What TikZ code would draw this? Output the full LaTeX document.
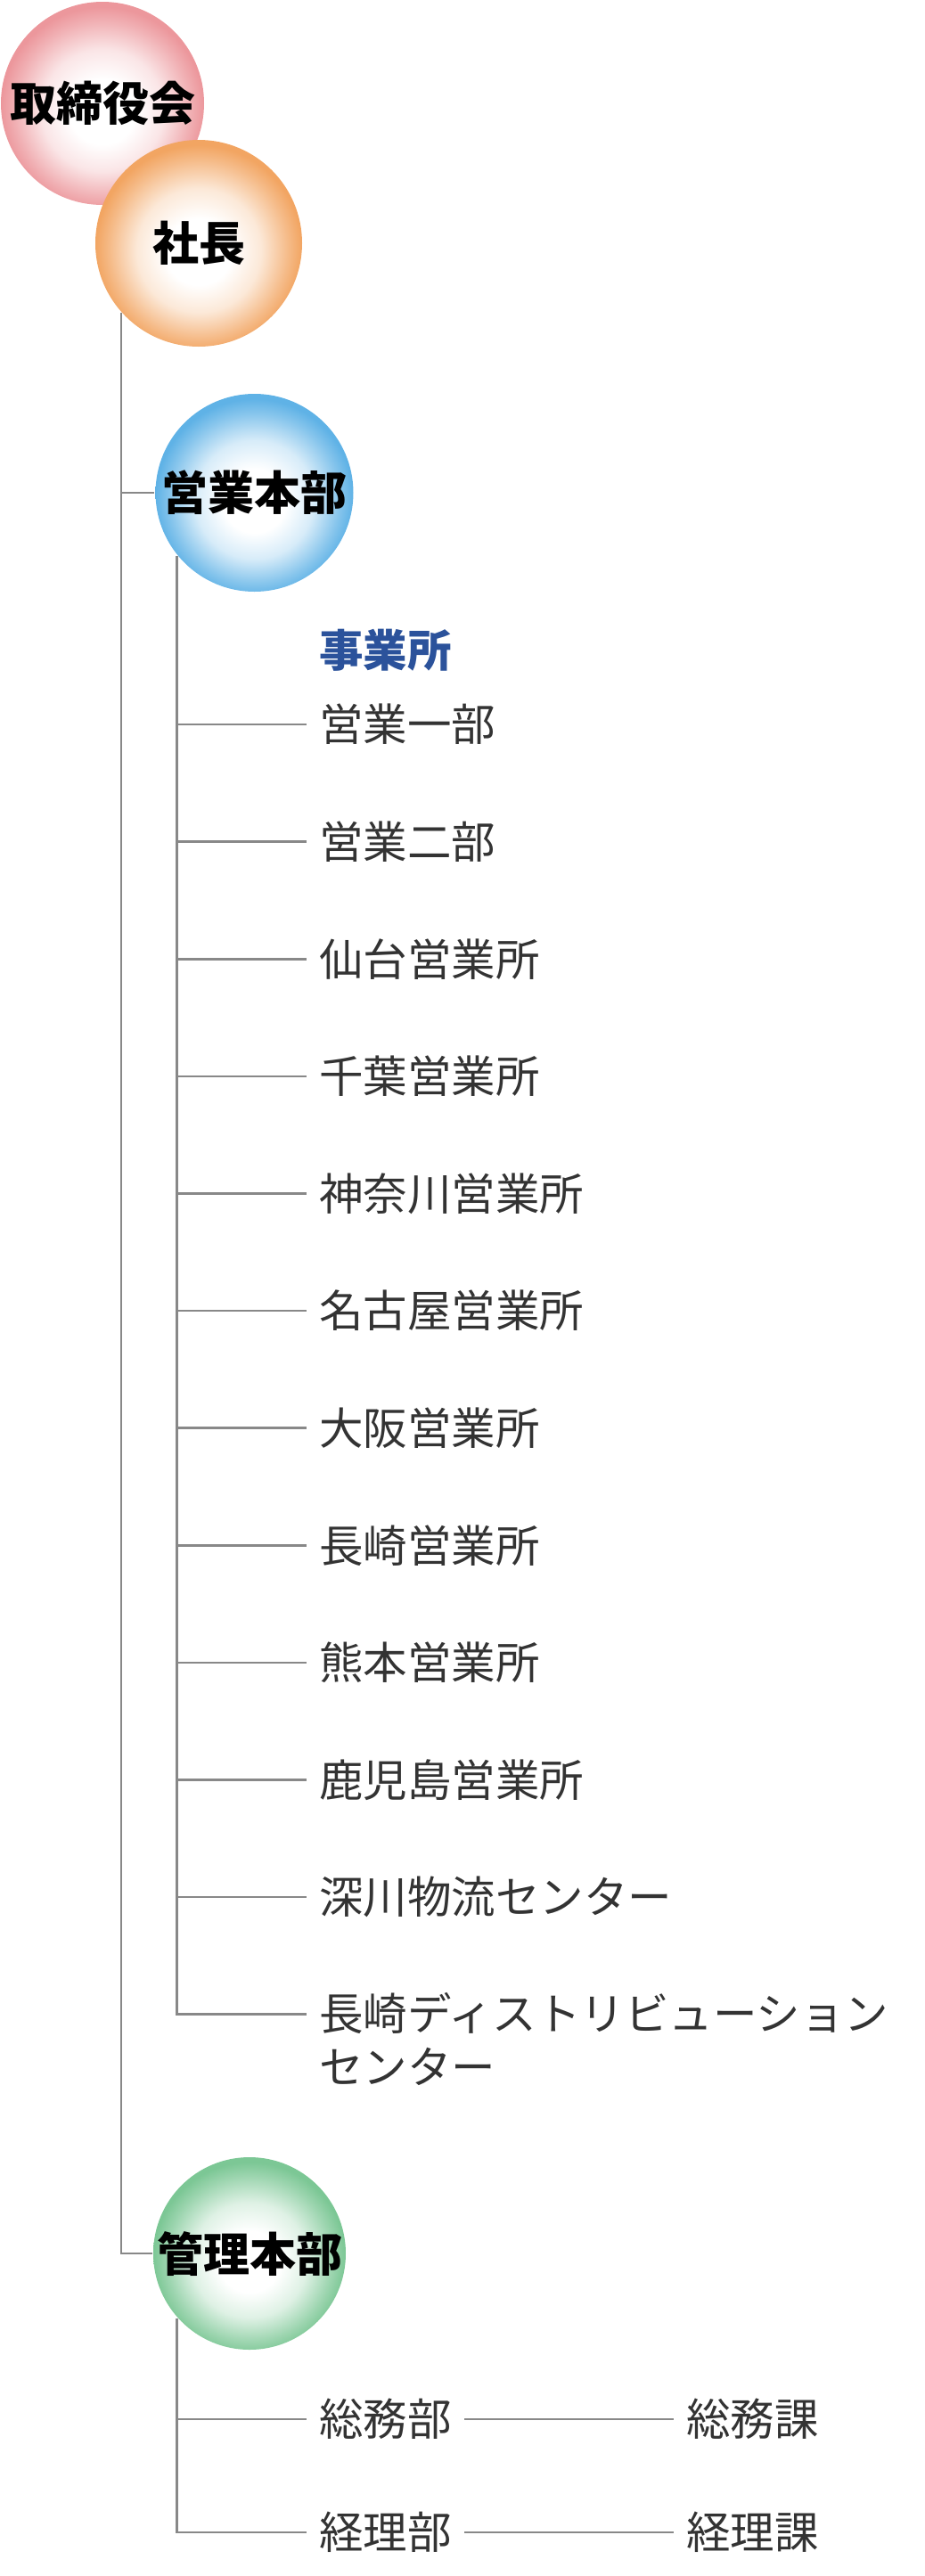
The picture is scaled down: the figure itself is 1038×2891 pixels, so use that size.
\documentclass[tikz,border=0pt]{standalone}
\usepackage{fontspec}
\newfontfamily\jpfont{Noto Sans CJK JP}
\usepackage{tikz}
\definecolor{pinkc}{HTML}{EC979C}
\definecolor{orangec}{HTML}{F2A562}
\definecolor{bluec}{HTML}{5FB2E6}
\definecolor{greenc}{HTML}{7CC795}
\definecolor{linec}{HTML}{888888}
\definecolor{textc}{HTML}{333333}
\definecolor{headc}{HTML}{2B529B}
\pgfdeclareradialshading{pinkball}{\pgfpoint{0bp}{-2.5bp}}{color(0bp)=(white); color(8bp)=(white); color(15bp)=(pinkc!25!white); color(21.5bp)=(pinkc!75!white); color(25bp)=(pinkc); color(50bp)=(pinkc)}
\pgfdeclareradialshading{orangeball}{\pgfpoint{0bp}{-2.5bp}}{color(0bp)=(white); color(8bp)=(white); color(15bp)=(orangec!25!white); color(21.5bp)=(orangec!75!white); color(25bp)=(orangec); color(50bp)=(orangec)}
\pgfdeclareradialshading{blueball}{\pgfpoint{0bp}{-2.5bp}}{color(0bp)=(white); color(8bp)=(white); color(15bp)=(bluec!25!white); color(21.5bp)=(bluec!75!white); color(25bp)=(bluec); color(50bp)=(bluec)}
\pgfdeclareradialshading{greenball}{\pgfpoint{0bp}{-2.5bp}}{color(0bp)=(white); color(8bp)=(white); color(15bp)=(greenc!25!white); color(21.5bp)=(greenc!75!white); color(25bp)=(greenc); color(50bp)=(greenc)}
\newcommand\ballfont{\jpfont\bfseries\fontsize{26}{30}\selectfont}
\newcommand\itemfont{\jpfont\fontsize{24.75}{30}\selectfont}
\tikzset{
    ball/.style={circle, inner sep=0pt, text=black, font=\ballfont},
    item/.style={anchor=west, inner xsep=6.5pt, inner ysep=0pt, text=textc,
    	font=\itemfont}
}

\begin{document}
\begin{tikzpicture}[x=0.5pt, y=-0.5pt, color=linec, line width=1.3pt]
	\useasboundingbox (0,0) rectangle (1038,2891);
	\node (board) [ball, minimum size=114pt, shading=pinkball] at (115, 116) {取締役会};
	\node (shacho) [ball, minimum size=116pt, shading=orangeball] at (223, 273) {社長};
	\node (eigyo) [ball, minimum size=111pt, shading=blueball] at (285.5, 553) {営業本部};
	\node (kanri) [ball, minimum size=108pt, shading=greenball] at (280, 2529) {管理本部};

	\node (jigyo) [item, text=headc, font=\itemfont\bfseries] at (344, 730) {事業所};
	\node (e1) [item] at (344, 813) {営業一部};
	\node (e2) [item] at (344, 944.6) {営業二部};
	\node (e3) [item] at (344, 1076.2) {仙台営業所};
	\node (e4) [item] at (344, 1207.8) {千葉営業所};
	\node (e5) [item] at (344, 1339.4) {神奈川営業所};
	\node (e6) [item] at (344, 1471) {名古屋営業所};
	\node (e7) [item] at (344, 1602.6) {大阪営業所};
	\node (e8) [item] at (344, 1734.2) {長崎営業所};
	\node (e9) [item] at (344, 1865.8) {熊本営業所};
	\node (e10) [item] at (344, 1997.4) {鹿児島営業所};
	\node (e11) [item] at (344, 2129) {深川物流センター};
	\node (e12) [item, anchor=north west, align=left] at (344, 2235) {長崎ディストリビューション\\センター};

	\node (k1) [item] at (344, 2715) {総務部};
	\node (k2) [item] at (344, 2842) {経理部};
	\node (k3) [item] at (756, 2715) {総務課};
	\node (k4) [item] at (756, 2842) {経理課};

	\draw (shacho.222) |- (kanri.west);
	\draw (shacho.222 |- eigyo.west) -- (eigyo.west);

	\draw (eigyo.219) |- ([yshift=-12.8pt]e12.north west);
	\draw (eigyo.219 |- e1.west) -- (e1.west); \draw (eigyo.219 |- e2.west) -- (e2.west);
	\draw (eigyo.219 |- e3.west) -- (e3.west); \draw (eigyo.219 |- e4.west) -- (e4.west);
	\draw (eigyo.219 |- e5.west) -- (e5.west); \draw (eigyo.219 |- e6.west) -- (e6.west);
	\draw (eigyo.219 |- e7.west) -- (e7.west); \draw (eigyo.219 |- e8.west) -- (e8.west);
	\draw (eigyo.219 |- e9.west) -- (e9.west); \draw (eigyo.219 |- e10.west) -- (e10.west);
	\draw (eigyo.219 |- e11.west) -- (e11.west);

	\draw (kanri.222) |- (k2.west);
	\draw (kanri.222 |- k1.west) -- (k1.west);
	\draw (k1) -- (k3); \draw (k2) -- (k4);
\end{tikzpicture}
\end{document}
